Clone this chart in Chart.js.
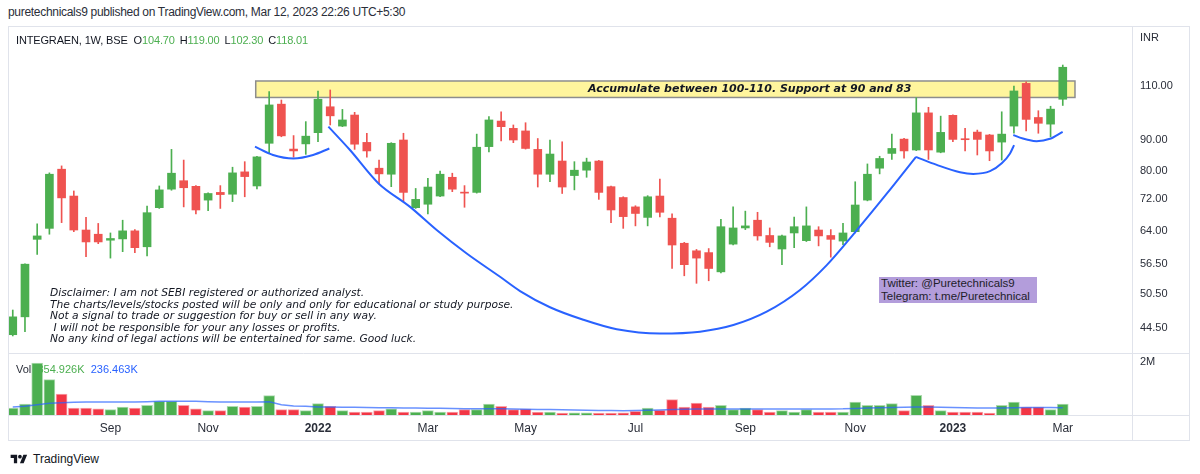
<!DOCTYPE html>
<html>
<head>
<meta charset="utf-8">
<script src="https://cdn.jsdelivr.net/npm/chart.js@4.4.0/dist/chart.umd.min.js"></script>
<style>
  body { margin: 0; background: #fff; width: 1200px; height: 474px; overflow: hidden; position: relative;
         font-family: "Liberation Sans", Arial, sans-serif; color: #131722; }
  #wrap { position: absolute; left: 8px; top: 26px; width: 1182px; height: 415px; }
  .abs { position: absolute; white-space: pre; }
  #pub { left: 8px; top: 5px; font-size: 12px; letter-spacing: -0.3px; color: #2a2e39; }
  #sym { left: 16px; top: 34px; font-size: 11px; letter-spacing: -0.15px; color: #131722; }
  #sym b { font-weight: normal; color: #4caf50; margin-right: 5px; }
  #sym i { font-style: normal; margin-right: 6px; }
  #inr { left: 1140px; top: 31px; font-size: 11px; color: #2a2e39; }
  #vol { left: 16px; top: 363px; font-size: 11px; color: #2a2e39; }
  #zoneText { left: 588px; top: 82px; font: italic bold 11px "DejaVu Sans", sans-serif; line-height: 14px; color: #131722; }
  #disc { left: 50px; top: 287px; font: italic 10.7px "DejaVu Sans", sans-serif; line-height: 11.5px; color: #131722; }
  #social { left: 879px; top: 277px; width: 156px; height: 26px; padding-left: 2px; background: #b39ddb;
            font-size: 11.5px; line-height: 12.5px; color: #1e1e2a; }
  #foot { left: 10px; top: 452px; font-size: 12px; color: #131722; display: flex; align-items: center; }
  #foot svg { margin-right: 5px; }
</style>
</head>
<body>
<div id="pub" class="abs">puretechnicals9 published on TradingView.com, Mar 12, 2023 22:26 UTC+5:30</div>
<div id="wrap"><canvas id="c" width="1182" height="415"></canvas></div>
<div id="sym" class="abs"><i>INTEGRAEN, 1W, BSE</i>O<b>104.70</b>H<b>119.00</b>L<b>102.30</b>C<b>118.01</b></div>
<div id="inr" class="abs">INR</div>
<div id="vol" class="abs">Vol  <span style="color:#4caf50">354.926K</span>  <span style="color:#2962ff">236.463K</span></div>
<div id="zoneText" class="abs">Accumulate between 100-110. Support at 90 and 83</div>
<div id="disc" class="abs">Disclaimer: I am not SEBI registered or authorized analyst.
The charts/levels/stocks posted will be only and only for educational or study purpose.
Not a signal to trade or suggestion for buy or sell in any way.
 I will not be responsible for your any losses or profits.
No any kind of legal actions will be entertained for same. Good luck.</div>
<div id="social" class="abs">Twitter: @Puretechnicals9
Telegram: t.me/Puretechnical</div>
<div id="foot" class="abs"><svg width="18" height="13" viewBox="0 0 36 28"><path d="M14 22H7V11H0V4h14v18zM28 22h-8l7.5-18h8L28 22z" fill="#131722"/><circle cx="20" cy="8" r="4" fill="#131722"/></svg>TradingView</div>

<script>
// weekly bars, first one starts on this monday
const firstWeek = Date.UTC(2021, 6, 12);
const monthNames = ['Jan', 'Feb', 'Mar', 'Apr', 'May', 'Jun', 'Jul', 'Aug', 'Sep', 'Oct', 'Nov', 'Dec'];

const openP = [43.4, 46.4, 62.0, 64.6, 80.6, 72.9, 64.2, 63.2, 61.8, 62.1,
  64.0, 60.3, 69.8, 74.8, 77.2, 75.6, 71.8, 73.9, 73.4, 79.8,
  75.7, 88.8, 102.8, 86.9, 88.6, 92.4, 101.8, 94.7, 98.7, 89.1,
  80.9, 79.1, 89.9, 69.8, 70.7, 72.9, 78.2, 73.9, 73.9, 87.7,
  96.5, 93.9, 93.0, 86.8, 79.1, 83.1, 78.7, 80.3, 83.1, 75.5,
  72.5, 70.0, 67.3, 72.9, 67.1, 61.1, 59.4, 59.0, 54.9, 60.9,
  64.7, 66.6, 62.9, 59.8, 63.5, 61.7, 64.2, 62.9, 61.6, 63.8,
  71.8, 80.9, 85.5, 90.2, 86.6, 99.5, 85.9, 98.6, 90.3, 92.6,
  91.6, 89.2, 94.7, 111.1, 97.8, 95.4, 104.70];
const highP = [47.6, 56.6, 65.7, 79.5, 81.6, 74.3, 67.3, 65.8, 63.5, 66.6,
  64.3, 70.2, 75.7, 86.8, 83.4, 75.8, 73.8, 75.8, 81.2, 82.9,
  84.6, 107.7, 104.4, 91.4, 96.3, 108.0, 108.4, 100.8, 99.7, 92.2,
  83.4, 89.0, 92.2, 75.0, 77.9, 80.0, 79.4, 75.8, 91.9, 98.1,
  99.9, 95.1, 95.9, 90.4, 89.9, 89.3, 82.9, 84.0, 83.3, 75.7,
  72.7, 70.3, 73.0, 77.7, 68.2, 61.3, 59.7, 59.9, 66.8, 70.0,
  68.9, 68.6, 64.7, 63.0, 67.4, 70.0, 65.0, 64.3, 65.8, 76.9,
  82.2, 84.6, 91.9, 90.5, 105.3, 101.6, 98.3, 98.8, 93.9, 93.3,
  91.8, 99.9, 110.0, 111.8, 100.3, 102.0, 119.00];
const lowP = [43.2, 43.9, 58.6, 63.2, 66.0, 63.8, 58.1, 61.0, 57.8, 59.2,
  59.0, 58.3, 69.6, 74.5, 70.0, 68.2, 69.0, 69.6, 71.4, 72.7,
  74.9, 85.7, 91.0, 84.3, 85.2, 89.3, 95.1, 94.5, 86.8, 84.3,
  76.3, 75.5, 71.4, 69.6, 68.2, 72.7, 74.1, 69.9, 73.7, 86.0,
  89.6, 89.0, 86.9, 75.4, 76.9, 73.6, 74.6, 78.2, 72.0, 66.0,
  64.6, 65.2, 65.2, 67.4, 55.6, 54.1, 52.6, 53.1, 54.7, 60.7,
  64.3, 61.8, 60.3, 56.4, 60.1, 61.5, 60.5, 58.0, 60.8, 63.5,
  71.6, 79.2, 83.6, 84.0, 86.4, 83.6, 85.7, 89.3, 86.3, 85.0,
  83.2, 83.4, 92.2, 93.0, 92.2, 91.0, 102.30];
const closeP = [46.4, 56.5, 62.8, 79.1, 72.4, 64.2, 61.4, 61.4, 62.2, 64.0,
  60.1, 68.5, 74.6, 79.4, 75.2, 69.2, 73.6, 73.3, 79.5, 78.4,
  84.4, 102.5, 91.3, 86.3, 91.2, 104.7, 98.4, 96.9, 88.5, 86.3,
  79.2, 88.8, 73.9, 72.0, 75.4, 79.1, 74.8, 73.7, 87.5, 96.9,
  94.5, 89.9, 87.1, 79.1, 85.3, 75.4, 80.3, 82.8, 73.9, 69.2,
  67.5, 68.3, 72.7, 68.6, 60.7, 56.4, 57.8, 55.6, 65.0, 64.7,
  65.2, 62.8, 61.3, 62.8, 65.0, 65.2, 62.8, 62.0, 63.5, 70.5,
  79.1, 83.9, 87.1, 86.3, 99.5, 86.6, 92.5, 90.1, 90.0, 90.1,
  86.3, 91.9, 108.0, 97.1, 95.7, 100.9, 118.01];

// volume and its moving average, thousands of shares
const volK = [226, 355, 1677, 1139, 677, 226, 226, 203, 171, 258,
  226, 313, 442, 442, 313, 203, 139, 139, 281, 258,
  281, 623, 171, 171, 139, 365, 281, 139, 97, 97,
  139, 203, 97, 97, 139, 97, 97, 171, 171, 355,
  281, 171, 194, 97, 97, 65, 74, 74, 65, 65,
  74, 119, 226, 152, 494, 258, 387, 258, 313, 171,
  226, 171, 97, 139, 97, 171, 97, 97, 97, 419,
  313, 313, 365, 139, 636, 313, 139, 97, 97, 97,
  65, 313, 419, 258, 258, 171, 354.926];
const volMAK = [258, 281, 332, 377, 397, 410, 419, 419, 419, 419,
  419, 429, 442, 442, 442, 442, 429, 419, 419, 419,
  419, 429, 332, 290, 281, 258, 258, 252, 248, 242,
  235, 232, 226, 223, 219, 216, 210, 203, 203, 203,
  200, 194, 187, 181, 174, 168, 161, 155, 148, 142,
  139, 145, 155, 161, 174, 184, 194, 194, 197, 194,
  194, 194, 194, 194, 194, 194, 194, 197, 200, 213,
  223, 232, 242, 248, 258, 258, 248, 239, 232, 226,
  226, 226, 232, 239, 242, 245, 236.463];

const priceTicks = [110, 90, 80, 72, 64, 56.5, 50.5, 44.5];
const volTicks = [2000000];

// drawings: [bar index, price]
const zoneIdx = [19.9, 87.0];
const zonePrice = [105.4, 112.1];
const cupLeft = [[19.84, 87.7], [21.32, 85.0], [22.98, 83.9], [24.6, 85.0], [25.93, 87.1]];
const cupMain = [[25.85, 94.5], [27.62, 86.6], [29.94, 76.5], [32.54, 70.0], [34.72, 64.2], [37.18, 58.8],
  [39.91, 53.9], [41.55, 51.1], [44.0, 48.1], [46.73, 45.9], [49.47, 44.3], [53.01, 43.6], [56.29, 43.9],
  [59.02, 45.0], [61.75, 47.3], [64.48, 51.3], [66.67, 56.3], [68.8, 63.0], [71.6, 73.6], [73.98, 84.4]];
const cupRight = [[73.98, 84.4], [75.68, 81.9], [77.58, 79.7], [78.67, 79.2], [80.04, 80.0], [81.0, 82.4],
  [81.68, 85.5], [82.01, 88.2]];
const cupLast = [[81.95, 91.6], [82.49, 90.7], [83.04, 90.1], [83.86, 89.5], [84.95, 90.3], [85.99, 92.7]];

const GREEN = '#4caf50', RED = '#ef5350', VRED = '#f23645', BLUE = '#2962ff', LINE = '#e0e3eb';

const idx = openP.map((v, i) => i);
const isUp = idx.map(i => closeP[i] >= openP[i]);

// month ticks on the time axis
const weekDates = idx.map(i => new Date(firstWeek + i * 7 * 864e5));
const timeTicks = [];
weekDates.forEach((d, i) => {
  if (i == 0) return;
  const m = d.getUTCMonth();
  if (m != weekDates[i - 1].getUTCMonth() && m % 2 == 0) {
    timeTicks.push({ value: i, label: m == 0 ? String(d.getUTCFullYear()) : monthNames[m], year: m == 0 });
  }
});

const curve = pts => pts.map(p => ({ x: p[0], y: p[1] }));
const curveSet = pts => ({
  type: 'line', data: curve(pts), yAxisID: 'y', borderColor: BLUE, borderWidth: 2,
  pointRadius: 0, cubicInterpolationMode: 'monotone', order: 0
});

const zonePlugin = {
  id: 'zone',
  beforeDatasetsDraw(chart) {
    const { ctx, scales: { x, y } } = chart;
    const x0 = x.getPixelForValue(zoneIdx[0]), x1 = x.getPixelForValue(zoneIdx[1]);
    const y0 = y.getPixelForValue(zonePrice[1]), y1 = y.getPixelForValue(zonePrice[0]);
    ctx.save();
    ctx.fillStyle = '#fff59d';
    ctx.fillRect(x0, y0, x1 - x0, y1 - y0);
    ctx.strokeStyle = '#8d8d8d';
    ctx.lineWidth = 1.5;
    ctx.strokeRect(x0, y0, x1 - x0, y1 - y0);
    ctx.restore();
  }
};

const framePlugin = {
  id: 'frame',
  afterDraw(chart) {
    const { ctx, chartArea: a, scales: { yv }, width, height } = chart;
    ctx.save();
    ctx.strokeStyle = LINE;
    ctx.lineWidth = 1;
    ctx.strokeRect(0.5, 0.5, width - 1, height - 1);
    ctx.beginPath();
    ctx.moveTo(Math.round(a.right) + 0.5, 0); ctx.lineTo(Math.round(a.right) + 0.5, height);
    ctx.moveTo(0, Math.round(yv.top) + 0.5); ctx.lineTo(width, Math.round(yv.top) + 0.5);
    ctx.moveTo(0, Math.round(a.bottom) + 0.5); ctx.lineTo(width, Math.round(a.bottom) + 0.5);
    ctx.stroke();
    ctx.restore();
  }
};

function noPad(s) { s.paddingTop = 0; s.paddingBottom = 0; s.paddingLeft = 0; s.paddingRight = 0; }

new Chart(document.getElementById('c'), {
  type: 'bar',
  data: {
    datasets: [
      curveSet(cupLeft), curveSet(cupMain), curveSet(cupRight), curveSet(cupLast),
      {
        type: 'line', data: idx.map(i => ({ x: i, y: volMAK[i] * 1000 })), yAxisID: 'yv',
        borderColor: 'rgba(41,98,255,0.7)', borderWidth: 1.5, pointRadius: 0, order: 1
      },
      {
        data: idx.map(i => ({ x: i, y: [Math.min(openP[i], closeP[i]), Math.max(openP[i], closeP[i])] })),
        yAxisID: 'y', backgroundColor: idx.map(i => isUp[i] ? GREEN : RED),
        barThickness: 8, minBarLength: 1, grouped: false, order: 2
      },
      {
        data: idx.map(i => ({ x: i, y: [lowP[i], highP[i]] })),
        yAxisID: 'y', backgroundColor: idx.map(i => isUp[i] ? GREEN : RED),
        barThickness: 1, grouped: false, order: 3
      },
      {
        data: idx.map(i => ({ x: i, y: volK[i] * 1000 })),
        yAxisID: 'yv', backgroundColor: idx.map(i => isUp[i] ? GREEN : VRED),
        borderColor: idx.map(i => isUp[i] ? 'rgba(76,175,80,0.45)' : 'rgba(242,54,69,0.45)'),
        borderWidth: 1, borderSkipped: 'bottom', barThickness: 11, grouped: false, order: 4
      }
    ]
  },
  options: {
    responsive: false,
    animation: false,
    devicePixelRatio: 1,
    layout: { padding: 0, autoPadding: false },
    plugins: { legend: { display: false }, tooltip: { enabled: false } },
    scales: {
      x: {
        type: 'linear', position: 'bottom', min: -0.39, max: 91.67, bounds: 'data', offset: false,
        grid: { display: false, drawTicks: false, offset: false }, border: { display: false },
        afterBuildTicks: s => { s.ticks = timeTicks.map(t => ({ value: t.value })); },
        afterFit: s => { s.height = 26; noPad(s); },
        ticks: {
          autoSkip: false, maxRotation: 0, padding: 6, color: '#2a2e39',
          font: c => ({ family: 'Liberation Sans', size: 12, weight: (timeTicks[c.index] || {}).year ? 'bold' : 'normal' }),
          callback: (v, i) => timeTicks[i].label
        }
      },
      y: {
        type: 'logarithmic', position: 'right', stack: 'panes', stackWeight: 327,
        min: 40.53, max: 137.7, bounds: 'data',
        grid: { display: false, drawTicks: false }, border: { display: false },
        afterBuildTicks: s => { s.ticks = priceTicks.map(v => ({ value: v })); },
        afterFit: s => { s.width = 58; noPad(s); },
        ticks: {
          autoSkip: false, padding: 8, color: '#2a2e39', font: { family: 'Liberation Sans', size: 11 },
          callback: v => Number(v).toFixed(2)
        }
      },
      yv: {
        type: 'linear', position: 'right', stack: 'panes', stackWeight: 62,
        min: 0, max: 2000000, bounds: 'data',
        grid: { display: false, drawTicks: false }, border: { display: false },
        afterBuildTicks: s => { s.ticks = volTicks.map(v => ({ value: v })); },
        afterFit: s => { s.width = 58; noPad(s); },
        ticks: {
          autoSkip: false, padding: 8, labelOffset: 9, color: '#2a2e39', font: { family: 'Liberation Sans', size: 11 },
          callback: v => (v / 1e6) + 'M'
        }
      }
    }
  },
  plugins: [zonePlugin, framePlugin]
});
</script>
</body>
</html>
